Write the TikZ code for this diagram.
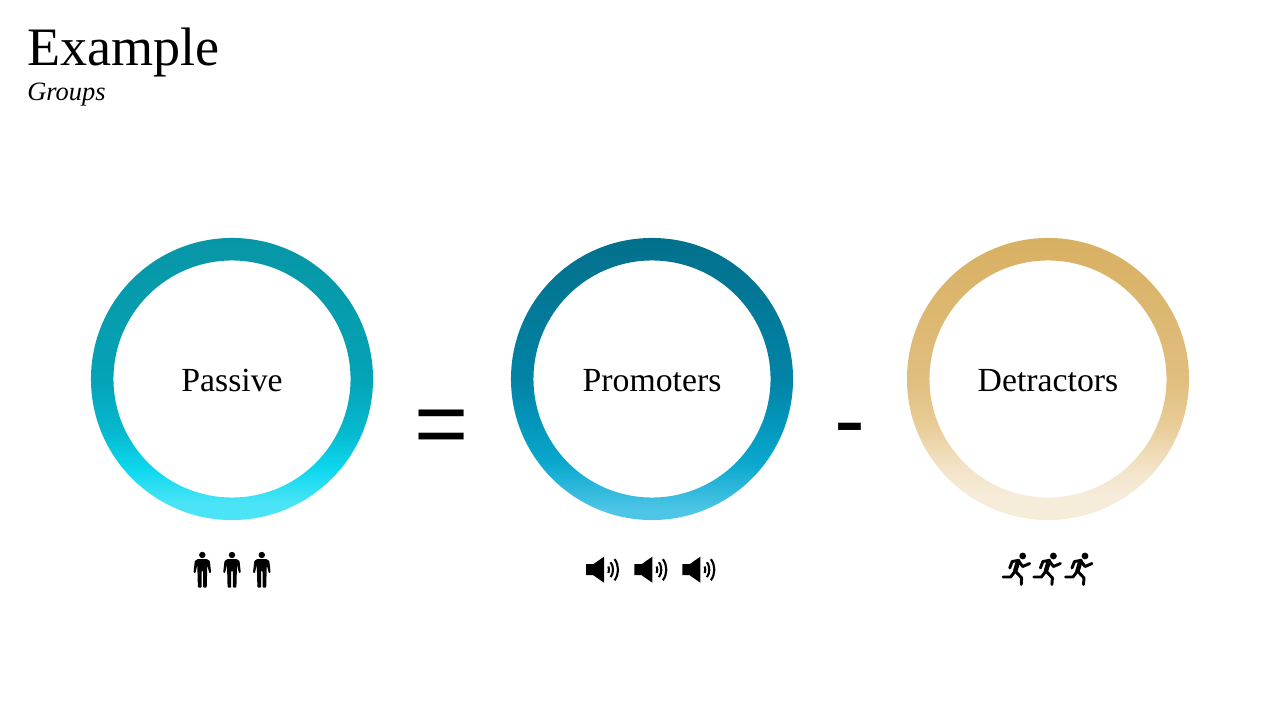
\documentclass[tikz,border=0pt]{standalone}
\usepackage{fontspec}
\setmainfont{Liberation Serif}
\newfontfamily\signfont{Liberation Sans}
\definecolor{passivetop}{HTML}{0796A6}
\definecolor{passivea}{HTML}{04A3B6}
\definecolor{passiveb}{HTML}{05B8CE}
\definecolor{passivedd}{HTML}{0DD8EE}
\definecolor{passivee}{HTML}{4AE4F6}
\definecolor{promotop}{HTML}{02708C}
\definecolor{promoa}{HTML}{0283A6}
\definecolor{promob}{HTML}{0396BC}
\definecolor{promod}{HTML}{0BA8CE}
\definecolor{promoe}{HTML}{4CC5E6}
\definecolor{detracttop}{HTML}{D8B062}
\definecolor{detracta}{HTML}{E0BE7E}
\definecolor{detractb}{HTML}{E8CC96}
\definecolor{detractd}{HTML}{F3E4C9}
\definecolor{detracte}{HTML}{F6ECDA}
\pgfdeclareverticalshading{passiveshade}{100bp}{color(0bp)=(passivee); color(25bp)=(passivee); color(28bp)=(passivee); color(34bp)=(passivedd); color(41bp)=(passiveb); color(50bp)=(passivea); color(75bp)=(passivetop); color(100bp)=(passivetop)}
\pgfdeclareverticalshading{promoshade}{100bp}{color(0bp)=(promoe); color(25bp)=(promoe); color(27bp)=(promoe); color(35bp)=(promod); color(42bp)=(promob); color(50bp)=(promoa); color(75bp)=(promotop); color(100bp)=(promotop)}
\pgfdeclareverticalshading{detractshade}{100bp}{color(0bp)=(detracte); color(25bp)=(detracte); color(29bp)=(detracte); color(34bp)=(detractd); color(42bp)=(detractb); color(50bp)=(detracta); color(75bp)=(detracttop); color(100bp)=(detracttop)}
\tikzset{
  ring/.style={even odd rule, shading=#1},
  ringlabel/.style={font=\fontsize{24}{28}\selectfont, anchor=base},
  bigsign/.style={font=\signfont\fontsize{66}{74}\selectfont, inner sep=0pt, anchor=base},
  limb/.style={line width=2.1pt, line cap=round, line join=round}
}
\begin{document}
\begin{tikzpicture}[x=0.025cm, y=-0.025cm]
    \def\ro{3.525cm}
    \def\ri{2.9625cm}
    \def\person#1{
    \begin{scope}[shift={(#1,555)}]
    \fill (0,0) circle (0.08cm);
    \fill[rounded corners=0.5pt] (-4.5,4) -- (4.5,4) -- (7.5,6) -- (8.8,17.5) -- (7,18.2) -- (5,10) -- (4.4,32.5) -- (0.8,32.5) -- (0.8,16) -- (-0.8,16) -- (-0.8,32.5) -- (-4.4,32.5) -- (-5,10) -- (-7,18.2) -- (-8.8,17.5) -- (-7.5,6) -- cycle;
    \end{scope}
    }
    \def\speaker#1{
    \begin{scope}[shift={(#1,569.7)}]
    \fill (0,-5.5) -- (7.3,-5.5) -- (18,-13) -- (18,13) -- (7.3,5.5) -- (0,5.5) -- cycle;
    \draw[line width=1.5pt] (14,0) ++(-21:9) arc[start angle=21, end angle=-21, radius=0.225cm];
    \draw[line width=1.5pt] (14,0) ++(-35:13) arc[start angle=35, end angle=-35, radius=0.325cm];
    \draw[line width=1.5pt] (14,0) ++(-36:18) arc[start angle=36, end angle=-36, radius=0.45cm];
    \end{scope}
    }
    \def\runner#1{
    \begin{scope}[shift={(#1,556)}]
    \fill (0,0) circle (0.085cm);
    \draw[limb, line width=3.2pt] (-4.5,5) -- (-7.5,15);
    \draw[limb] (-4.5,4.5) -- (-10.5,5.5) -- (-13,12);
    \draw[limb] (-4.5,4.5) -- (0,10.5) -- (7,7.5);
    \draw[limb] (-7.5,15) -- (-12,21) -- (-19.5,21);
    \draw[limb] (-7.5,15) -- (-1,22) -- (-1.5,28.5);
    \end{scope}
    }

    % page
    \path[use as bounding box] (0,0) rectangle (1280,720);

    % title
    \node[anchor=base west, inner sep=0pt, font=\fontsize{38.5}{44}\selectfont] (title) at (27,65.5) {Example};
    \node[anchor=base west, inner sep=0pt, font=\itshape\fontsize{18.8}{22}\selectfont] (subtitle) at (27,100.5) {Groups};

    % rings
    \path[ring=passiveshade] (232,379) circle (\ro) (232,379) circle (\ri);
    \path[ring=promoshade] (652,379) circle (\ro) (652,379) circle (\ri);
    \path[ring=detractshade] (1048,379) circle (\ro) (1048,379) circle (\ri);
    \node[ringlabel] (passive) at (232,391.5) {Passive};
    \node[ringlabel] (promoters) at (652,391.5) {Promoters};
    \node[ringlabel] (detractors) at (1048,391.5) {Detractors};

    % signs
    \node[bigsign] (equals) at (441.5,455) {=};
    \node[bigsign] (minus) at (849.5,451.3) {-};

    % icons
    \person{202.3}
    \person{232}
    \person{261.8}
    \speaker{586}
    \speaker{634.3}
    \speaker{682.3}
    \runner{1022.7}
    \runner{1053.4}
    \runner{1085}
\end{tikzpicture}
\end{document}
